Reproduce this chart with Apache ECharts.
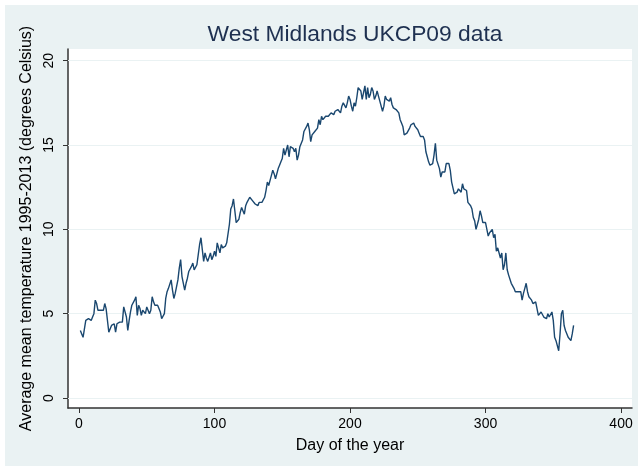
<!DOCTYPE html>
<html><head><meta charset="utf-8">
<script src="https://cdn.jsdelivr.net/npm/echarts@6/dist/echarts.min.js"></script>
<style>html,body{margin:0;padding:0;background:#fff}#c{width:643px;height:470px}</style>
</head><body><div id="c"></div>
<script>
const titleText = 'West Midlands UKCP09 data';
const xTitle = 'Day of the year';
const yTitle = 'Average mean temperature 1995-2013 (degrees Celsius)';
const xTicks = [0, 100, 200, 300, 400];
const yTicks = [0, 5, 10, 15, 20];
// average mean temperature for day 1..365
const temps = [
 4.0,3.8,3.6,4.1,4.6,4.5,4.7,4.8,4.6,4.8,
 5.0,5.8,5.6,5.2,5.3,5.2,5.3,5.2,5.6,5.3,
 5.2,3.9,3.8,4.3,4.2,4.4,3.9,4.4,4.5,4.5,
 4.6,4.5,5.4,5.5,4.8,4.0,4.6,5.1,5.5,5.6,
 5.8,6.0,4.9,5.5,5.3,4.9,5.2,5.1,5.0,5.4,
 5.3,5.0,5.2,6.0,5.7,5.5,5.6,5.5,5.3,5.1,
 4.7,4.6,5.0,5.9,6.3,6.5,6.4,7.0,6.4,5.9,
 6.2,6.6,7.0,7.7,8.2,7.2,6.8,6.4,6.8,7.1,
 7.5,7.4,7.8,8.0,7.6,7.7,7.9,8.5,9.1,9.5,
 8.8,8.1,8.6,8.3,8.1,8.1,8.6,8.2,8.4,8.7,
 8.4,9.2,8.9,8.6,9.1,8.9,8.8,9.0,9.2,9.3,
 10.3,11.2,11.4,11.8,11.1,10.4,10.3,10.6,11.0,11.3,
 11.2,10.9,11.4,11.6,11.7,11.9,11.9,11.7,11.8,11.5,
 11.4,11.4,11.6,11.7,11.6,11.5,11.9,12.3,12.8,12.6,
 12.9,13.2,13.5,13.3,13.0,13.1,13.6,13.8,14.0,14.2,
 14.8,14.4,14.7,15.0,14.3,14.9,15.0,14.8,14.6,14.8,
 14.1,14.4,14.9,15.0,15.3,15.8,15.9,16.1,16.3,15.9,
 15.2,15.6,15.7,15.8,15.9,16.0,16.5,16.2,16.7,16.5,
 16.4,16.7,16.6,16.7,16.8,16.9,16.9,16.8,17.0,17.1,
 17.1,17.0,16.9,17.3,17.5,17.4,17.2,17.5,17.9,17.7,
 17.3,17.0,17.5,17.3,17.8,18.4,18.3,18.2,17.7,17.8,
 18.5,17.7,18.4,17.8,18.0,18.4,18.2,17.7,17.9,18.2,
 17.9,17.6,17.7,17.0,17.3,17.9,17.7,17.7,17.6,17.8,
 17.4,17.2,17.3,17.1,17.0,16.9,16.5,16.3,16.1,15.6,
 15.5,15.7,15.8,16.0,16.2,16.1,16.3,16.1,16.0,15.9,
 15.7,15.5,15.4,15.5,15.3,14.6,14.3,14.0,13.8,13.7,
 13.9,14.4,15.1,14.1,14.2,13.6,13.1,13.4,13.5,13.4,
 13.9,14.0,13.9,13.5,12.8,12.9,12.1,12.0,12.2,12.4,
 12.4,12.2,12.7,12.4,12.3,12.3,11.6,11.5,11.4,11.2,
 10.7,10.5,10.0,10.1,10.6,11.1,10.8,10.4,10.3,10.4,
 10.4,9.6,9.8,9.7,10.0,9.5,9.7,8.7,8.9,8.8,
 8.3,8.6,7.6,7.9,8.6,7.6,7.3,7.4,6.8,6.7,
 6.5,6.3,6.4,6.3,6.3,6.3,5.8,6.2,6.5,6.8,
 6.3,6.0,5.9,5.8,5.6,5.7,5.7,5.6,4.9,5.0,
 5.1,5.1,4.8,4.9,4.7,5.0,4.8,4.7,5.1,4.6,
 3.6,3.4,3.5,2.8,3.8,5.0,5.2,4.3,4.0,3.9,
 3.6,3.5,3.4,3.8,4.3
];
const days = temps.map((_, i) => i + 1);
const seriesData = days.map((d, i) => [d, temps[i]]);

const font = '"Liberation Sans", Arial, sans-serif';
const chart = echarts.init(document.getElementById('c'), null, {renderer: 'canvas'});
chart.setOption({
  backgroundColor: '#ffffff',
  animation: false,
  graphic: [{
    type: 'rect', z: -10, silent: true,
    shape: {x: 5, y: 5, width: 633, height: 461},
    style: {fill: '#eaf2f3'}
  }],
  title: {
    text: titleText, left: 350, top: 18, textAlign: 'center',
    textStyle: {fontFamily: font, fontSize: 22.8, fontWeight: 'normal', color: '#1e3050'}
  },
  grid: {left: 68, right: 11, top: 49, bottom: 62, show: true, backgroundColor: '#ffffff', borderWidth: 0},
  xAxis: {
    type: 'value', min: -8.12, max: 408.1,
    name: xTitle, nameLocation: 'middle', nameGap: 30,
    nameTextStyle: {fontFamily: font, fontSize: 16, color: '#000'},
    axisLine: {show: true, onZero: false, lineStyle: {color: '#333', width: 1.5}},
    axisTick: {show: true, length: 5, customValues: xTicks, lineStyle: {color: '#333'}},
    axisLabel: {customValues: xTicks, fontFamily: font, fontSize: 14, color: '#000', margin: 9},
    splitLine: {show: false}
  },
  yAxis: {
    type: 'value', min: -0.593, max: 20.69,
    name: yTitle, nameLocation: 'middle', nameGap: 27, nameRotate: 90,
    nameTextStyle: {fontFamily: font, fontSize: 16, color: '#000'},
    axisLine: {show: true, onZero: false, lineStyle: {color: '#333', width: 1.5}},
    axisTick: {show: true, length: 5, customValues: yTicks, lineStyle: {color: '#333'}},
    axisLabel: {customValues: yTicks, rotate: 90, fontFamily: font, fontSize: 14, color: '#000', margin: 12},
    splitLine: {show: false}
  },
  series: [
    {
      type: 'line', data: [], z: 1, silent: true,
      markLine: {
        silent: true, symbol: 'none', label: {show: false}, z: 1,
        lineStyle: {color: '#eaf2f3', width: 1, type: 'solid'},
        data: yTicks.map(v => ({yAxis: v}))
      }
    },
    {
      type: 'line', data: seriesData, showSymbol: false, z: 3,
      lineStyle: {color: '#1a476f', width: 1.4}
    }
  ]
});
</script></body></html>
